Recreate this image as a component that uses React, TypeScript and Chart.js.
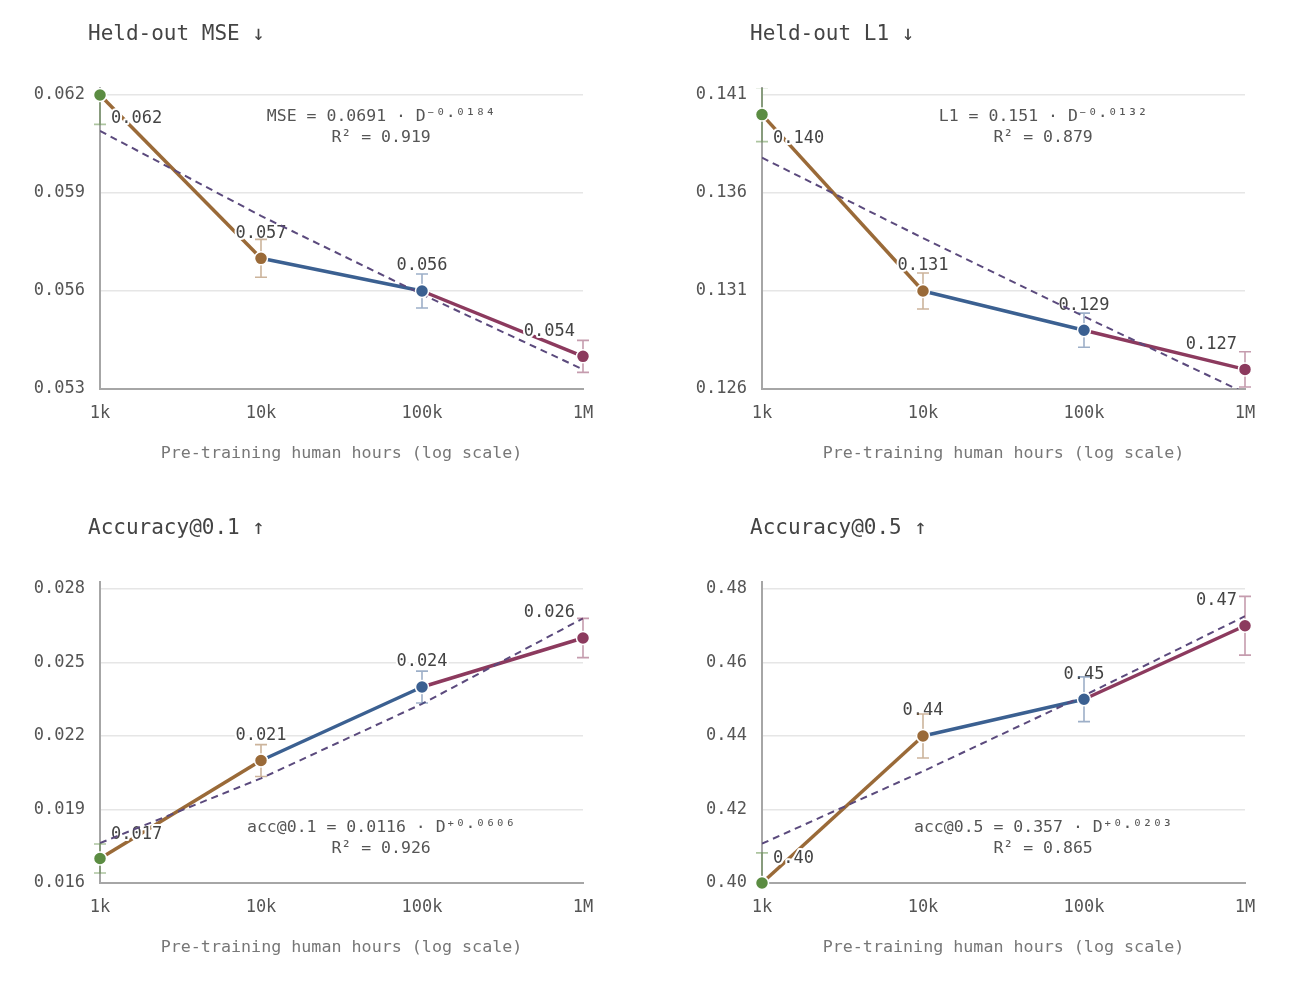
import React, { useEffect, useRef } from 'react';
import { Chart, registerables } from 'chart.js';

Chart.register(...registerables);

// ---------- data ----------
const hours = [1000, 10000, 100000, 1000000];
const xTickLabels = ['1k', '10k', '100k', '1M'];
const pointColors = ['#5b8c42', '#9a6a38', '#3b6091', '#8c3a5e'];
const fitColor = '#5b4a7d';

const titles = ['Held-out MSE ↓', 'Held-out L1 ↓', 'Accuracy@0.1 ↑', 'Accuracy@0.5 ↑'];
const axisTitle = 'Pre-training human hours (log scale)';

const mseValues = [0.062, 0.057, 0.056, 0.054];
const mseErrors = [0.0009, 0.00058, 0.00052, 0.00049];
const mseFit = [0.0609, 0.0583, 0.0559, 0.0536];
const mseTicks = [0.053, 0.056, 0.059, 0.062];
const mseFormula = ['MSE = 0.0691 · D⁻⁰·⁰¹⁸⁴', 'R² = 0.919'];

const l1Values = [0.14, 0.131, 0.129, 0.127];
const l1Errors = [0.00138, 0.00092, 0.00087, 0.0009];
const l1Fit = [0.1378, 0.1337, 0.1297, 0.1258];
const l1Ticks = [0.126, 0.131, 0.136, 0.141];
const l1Formula = ['L1 = 0.151 · D⁻⁰·⁰¹³²', 'R² = 0.879'];

const acc01Values = [0.017, 0.021, 0.024, 0.026];
const acc01Errors = [0.00059, 0.00065, 0.00065, 0.0008];
const acc01Fit = [0.01763, 0.02027, 0.02331, 0.0268];
const acc01Ticks = [0.016, 0.019, 0.022, 0.025, 0.028];
const acc01Formula = ['acc@0.1 = 0.0116 · D⁺⁰·⁰⁶⁰⁶', 'R² = 0.926'];

const acc05Values = [0.4, 0.44, 0.45, 0.47];
const acc05Errors = [0.0082, 0.006, 0.0061, 0.008];
const acc05Fit = [0.4107, 0.4304, 0.451, 0.4726];
const acc05Ticks = [0.4, 0.42, 0.44, 0.46, 0.48];
const acc05Formula = ['acc@0.5 = 0.357 · D⁺⁰·⁰²⁰³', 'R² = 0.865'];

const FONT = '"DejaVu Sans Mono", monospace';

type Panel = {
  key: string;
  title: string;
  values: number[];
  errors: number[];
  fit: number[];
  ticks: number[];
  decimals: number;
  formula: string[];
  lowerBetter: boolean;
  left: number;
  top: number;
};

const panels: Panel[] = [
  { key: 'mse', title: titles[0], values: mseValues, errors: mseErrors, fit: mseFit, ticks: mseTicks, decimals: 3, formula: mseFormula, lowerBetter: true, left: 0, top: 0 },
  { key: 'l1', title: titles[1], values: l1Values, errors: l1Errors, fit: l1Fit, ticks: l1Ticks, decimals: 3, formula: l1Formula, lowerBetter: true, left: 662, top: 0 },
  { key: 'acc01', title: titles[2], values: acc01Values, errors: acc01Errors, fit: acc01Fit, ticks: acc01Ticks, decimals: 3, formula: acc01Formula, lowerBetter: false, left: 0, top: 494 },
  { key: 'acc05', title: titles[3], values: acc05Values, errors: acc05Errors, fit: acc05Fit, ticks: acc05Ticks, decimals: 2, formula: acc05Formula, lowerBetter: false, left: 662, top: 494 },
];

const CW = 630;
const CH = 480;

function withAlpha(hex: string, a: number) {
  const r = parseInt(hex.slice(1, 3), 16);
  const g = parseInt(hex.slice(3, 5), 16);
  const b = parseInt(hex.slice(5, 7), 16);
  return `rgba(${r},${g},${b},${a})`;
}

function ChartPanel({ p }: { p: Panel }) {
  const ref = useRef<HTMLCanvasElement | null>(null);

  useEffect(() => {
    if (!ref.current) return;
    const span = p.ticks[p.ticks.length - 1] - p.ticks[0];
    const yMin = p.ticks[0];
    const yMax = p.ticks[p.ticks.length - 1] + (span * 7) / 294;

    const plugin = {
      id: 'custom_' + p.key,
      beforeDatasetDraw(chart: any, args: any) {
        const ctx = chart.ctx as CanvasRenderingContext2D;
        const xs = chart.scales.x;
        const ys = chart.scales.y;
        const area = chart.chartArea;
        if (args.index === 1) {
          // value labels with white halo
          ctx.save();
          ctx.font = `17px ${FONT}`;
          ctx.textBaseline = 'middle';
          ctx.lineJoin = 'round';
          ctx.strokeStyle = '#ffffff';
          ctx.lineWidth = 4;
          ctx.fillStyle = '#444444';
          p.values.forEach((v, i) => {
            const px = xs.getPixelForValue(hours[i]);
            const py = ys.getPixelForValue(v);
            let tx = px;
            let ty = py - 25;
            let align: CanvasTextAlign = 'center';
            if (i === 0) {
              tx = px + 11;
              ty = p.lowerBetter ? py + 24 : py - 24;
              align = 'left';
            } else if (i === p.values.length - 1) {
              tx = px - 8;
              align = 'right';
            }
            ctx.textAlign = align;
            const text = v.toFixed(p.decimals);
            ctx.strokeText(text, tx, ty);
            ctx.fillText(text, tx, ty);
          });
          ctx.restore();
        }
        if (args.index === 0) {
          // error bars (clipped vertically to the plot area)
          ctx.save();
          ctx.beginPath();
          ctx.rect(0, area.top, chart.width, area.bottom - area.top);
          ctx.clip();
          ctx.lineWidth = 1.6;
          p.values.forEach((v, i) => {
            const px = xs.getPixelForValue(hours[i]);
            const y1 = ys.getPixelForValue(v + p.errors[i]);
            const y2 = ys.getPixelForValue(v - p.errors[i]);
            ctx.strokeStyle = withAlpha(pointColors[i], 0.5);
            ctx.beginPath();
            ctx.moveTo(px, y1);
            ctx.lineTo(px, y2);
            ctx.moveTo(px - 6, y1);
            ctx.lineTo(px + 6, y1);
            ctx.moveTo(px - 6, y2);
            ctx.lineTo(px + 6, y2);
            ctx.stroke();
          });
          ctx.restore();
        }
      },
      afterDraw(chart: any) {
        const ctx = chart.ctx as CanvasRenderingContext2D;
        const area = chart.chartArea;
        ctx.save();
        // title
        ctx.font = `21px ${FONT}`;
        ctx.fillStyle = '#444444';
        ctx.textAlign = 'left';
        ctx.textBaseline = 'middle';
        ctx.fillText(p.title, 88, 35);
        // axis title
        ctx.font = `16.7px ${FONT}`;
        ctx.fillStyle = '#777777';
        ctx.textAlign = 'center';
        ctx.fillText(axisTitle, (area.left + area.right) / 2, 454);
        // fit formula
        const cx = area.left + (area.right - area.left) * 0.582;
        const baseY = p.lowerBetter ? area.top + 29 : area.top + 246;
        ctx.font = `16.5px ${FONT}`;
        ctx.fillStyle = '#555555';
        ctx.fillText(p.formula[0], cx, baseY);
        ctx.fillText(p.formula[1], cx, baseY + 21);
        ctx.restore();
      },
    };

    const chart = new Chart(ref.current, {
      type: 'line',
      data: {
        datasets: [
          {
            label: 'points',
            data: p.values.map((v, i) => ({ x: hours[i], y: v })),
            showLine: false,
            pointRadius: 6.5,
            pointHoverRadius: 6.5,
            pointBackgroundColor: pointColors,
            pointBorderColor: '#ffffff',
            pointBorderWidth: 1.5,
            clip: false,
            order: 0,
          },
          {
            label: 'fit',
            data: p.fit.map((v, i) => ({ x: hours[i], y: v })),
            borderColor: fitColor,
            borderWidth: 2,
            borderDash: [7, 5],
            pointRadius: 0,
            tension: 0,
            fill: false,
            order: 1,
          },
          {
            label: 'line',
            data: p.values.map((v, i) => ({ x: hours[i], y: v })),
            borderWidth: 3.5,
            borderColor: pointColors[1],
            pointRadius: 0,
            tension: 0,
            fill: false,
            clip: false,
            order: 2,
            segment: {
              borderColor: (c: any) => pointColors[c.p1DataIndex],
            },
          } as any,
        ],
      },
      options: {
        animation: false,
        responsive: false,
        events: [],
        layout: { padding: { top: 88, right: CW - 583, left: 0, bottom: 0 } },
        plugins: {
          legend: { display: false },
          tooltip: { enabled: false },
          title: { display: false },
        },
        scales: {
          x: {
            type: 'logarithmic',
            min: 1000,
            max: 1000000,
            afterBuildTicks: (s: any) => {
              s.ticks = hours.map((v) => ({ value: v }));
            },
            afterFit: (s: any) => {
              s.height = CH - 389;
            },
            grid: { display: false, drawTicks: false },
            border: { display: true, color: '#a6a6a6', width: 2 },
            ticks: {
              padding: 14,
              color: '#555555',
              font: { family: FONT, size: 17 },
              autoSkip: false,
              maxRotation: 0,
              callback: (v: any) => xTickLabels[hours.indexOf(Number(v))] ?? '',
            },
          },
          y: {
            type: 'linear',
            min: yMin,
            max: yMax,
            afterBuildTicks: (s: any) => {
              s.ticks = p.ticks.map((v) => ({ value: v }));
            },
            afterFit: (s: any) => {
              s.width = 100;
            },
            grid: { color: '#e6e6e6', lineWidth: 1.5, drawTicks: false },
            border: { display: true, color: '#a6a6a6', width: 2 },
            ticks: {
              padding: 15,
              color: '#555555',
              font: { family: FONT, size: 17 },
              autoSkip: false,
              callback: (v: any) => Number(v).toFixed(p.decimals),
            },
          },
        },
      } as any,
      plugins: [plugin],
    });
    return () => chart.destroy();
  }, [p]);

  return (
    <canvas
      ref={ref}
      width={CW}
      height={CH}
      style={{ position: 'absolute', left: p.left, top: p.top, width: CW, height: CH }}
    />
  );
}

export default function App() {
  return (
    <div style={{ position: 'absolute', left: 0, top: 0, width: 1298, height: 986, background: '#ffffff', overflow: 'hidden' }}>
      {panels.map((p) => (
        <ChartPanel key={p.key} p={p} />
      ))}
    </div>
  );
}
